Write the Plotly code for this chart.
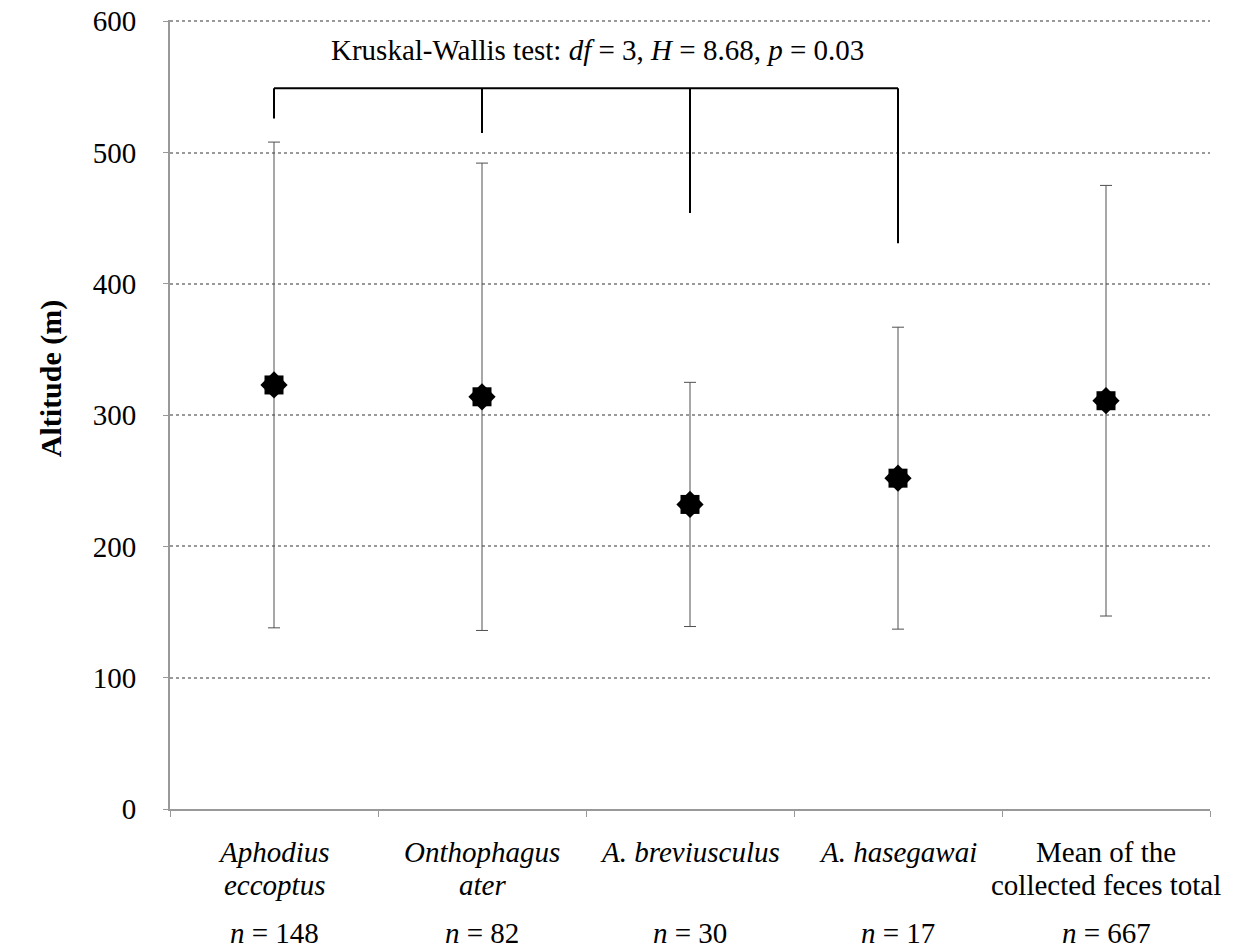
import plotly.graph_objects as go

categories = ["Aphodius eccoptus", "Onthophagus ater", "A. breviusculus", "A. hasegawai", "Mean of the collected feces total"]
label_line1 = ["<i>Aphodius</i>", "<i>Onthophagus</i>", "<i>A. breviusculus</i>", "<i>A. hasegawai</i>", "Mean of the"]
label_line2 = ["<i>eccoptus</i>", "<i>ater</i>", "", "", "collected feces total"]
n_labels = [148, 82, 30, 17, 667]
mean_alt = [323, 314, 232, 252, 311]
sd_alt = [185, 178, 93, 115, 164]

bracket_top = 549
bracket_cats = categories[:4]
bracket_drops = [526, 515, 454, 431]

FONT = "Liberation Serif"
FS = 29

fig = go.Figure()

# bracket
fig.add_trace(go.Scatter(x=[bracket_cats[0], bracket_cats[-1]], y=[bracket_top, bracket_top],
                         mode="lines", line=dict(color="black", width=2), hoverinfo="skip", showlegend=False))
for c, d in zip(bracket_cats, bracket_drops):
    fig.add_trace(go.Scatter(x=[c, c], y=[bracket_top, d], mode="lines",
                             line=dict(color="black", width=2), hoverinfo="skip", showlegend=False))

# error bars + square part of star
fig.add_trace(go.Scatter(
    x=categories, y=mean_alt, mode="markers",
    marker=dict(symbol="square", size=19, color="black"),
    error_y=dict(type="data", array=sd_alt, visible=True, color="#505050", thickness=1, width=6),
    showlegend=False))
# diamond part of star
fig.add_trace(go.Scatter(
    x=categories, y=mean_alt, mode="markers",
    marker=dict(symbol="diamond", size=21, color="black"),
    showlegend=False))

fig.add_annotation(xref="paper", yref="y", x=0.4115, y=578,
                   text="Kruskal-Wallis test: <i>df</i> = 3, <i>H</i> = 8.68, <i>p</i> = 0.03",
                   showarrow=False, font=dict(size=FS, color="black", family=FONT))

fig.add_annotation(xref="paper", yref="paper", x=-0.1327, y=0.546, textangle=-90,
                   text="<b>Altitude (m)</b>", showarrow=False,
                   font=dict(size=30, color="black", family=FONT))

for c, l1, l2, n in zip(categories, label_line1, label_line2, n_labels):
    fig.add_annotation(x=c, xref="x", yref="paper", y=-0.0545, yanchor="middle",
                       text=l1, showarrow=False, font=dict(size=FS, color="black", family=FONT))
    if l2:
        fig.add_annotation(x=c, xref="x", yref="paper", y=-0.0963, yanchor="middle",
                           text=l2, showarrow=False, font=dict(size=FS, color="black", family=FONT))
    fig.add_annotation(x=c, xref="x", yref="paper", y=-0.157, yanchor="middle",
                       text=f"<i>n</i> = {n}", showarrow=False,
                       font=dict(size=FS, color="black", family=FONT))

fig.update_layout(
    width=1220, height=940,
    margin=dict(l=162, r=18, t=12, b=139),
    plot_bgcolor="white", paper_bgcolor="white",
    font=dict(family=FONT, size=FS, color="black"),
    xaxis=dict(type="category", categoryorder="array", categoryarray=categories,
               tickmode="array", tickvals=categories, showticklabels=False,
               tickson="boundaries", ticks="outside", ticklen=6, tickcolor="#999999",
               showline=True, linecolor="#999999", linewidth=2, showgrid=False,
               automargin=False, range=[-0.5, 4.5]),
    yaxis=dict(range=[0, 601], tickvals=[0, 100, 200, 300, 400, 500, 600],
               showgrid=True, gridcolor="#999999", griddash="dot",
               gridwidth=2, showline=True, linecolor="#999999", linewidth=2,
               ticks="outside", ticklen=5, tickcolor="#999999", zeroline=False, automargin=False,
               ticklabeloverflow="allow", ticklabelstandoff=21,
               tickfont=dict(size=FS, family=FONT)),
)

fig.write_html("out.html")
